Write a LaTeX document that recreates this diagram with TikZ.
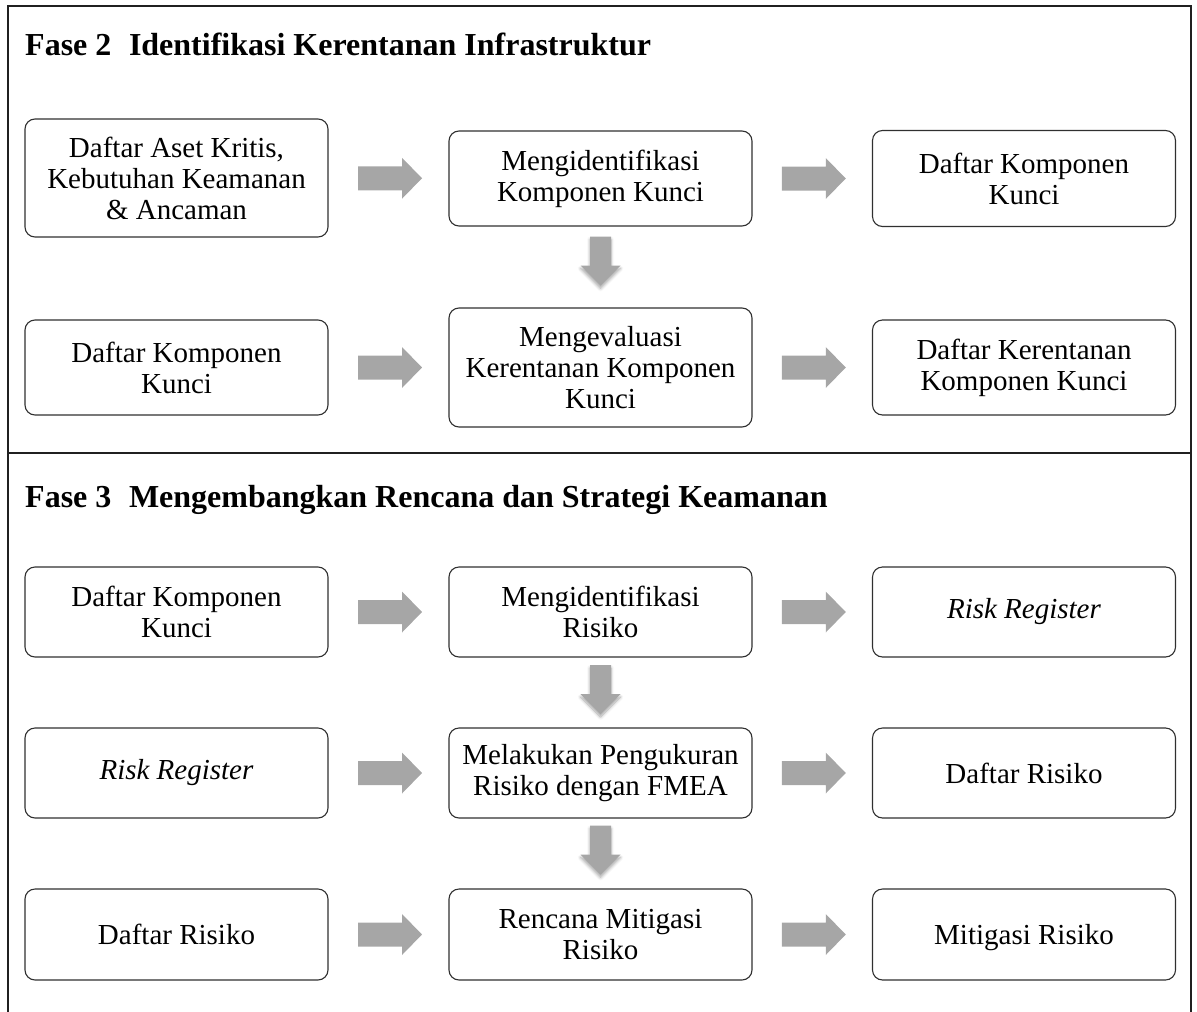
\documentclass[tikz,border=0pt]{standalone}
\usepackage{fontspec}
\setmainfont{Liberation Serif}
\usetikzlibrary{calc,shadows.blur}
\definecolor{arrowgray}{HTML}{A6A6A6}
\definecolor{boxcol}{HTML}{303030}
\definecolor{framecol}{HTML}{202020}
\begin{document}
\begin{tikzpicture}[x=1pt,y=-1pt,
  box/.style={draw=boxcol, line width=1.1pt, rounded corners=10pt, minimum width=303pt,
    align=center, font=\fontsize{29}{31}\selectfont, inner sep=0pt},
  titletext/.style={anchor=base west, font=\fontsize{32}{36}\selectfont\bfseries, inner sep=0pt},
  frameline/.style={draw=framecol, line width=1.3pt},
  rarr/.pic={\fill[arrowgray] (-32,-12) -- (12,-12) -- (12,-20.5) -- (32,0) -- (12,20.5) -- (12,12) -- (-32,12) -- cycle;},
  darr/.pic={\fill[arrowgray, blur shadow={shadow xshift=0pt, shadow yshift=-3pt, shadow opacity=35, shadow blur steps=6, shadow blur radius=3pt}]
     (-10.5,-25) -- (10.5,-25) -- (10.5,4) -- (20,4) -- (0,24) -- (-20,4) -- (-10.5,4) -- cycle;}
]
\useasboundingbox (0,0) rectangle (1197,1012);

% frame
\coordinate (fTL) at (8,6);
\coordinate (fTR) at (1191,6);
\coordinate (fBL) at (8,1012);
\coordinate (fBR) at (1191,1012);
\coordinate (dL) at (8,453);
\coordinate (dR) at (1191,453);
\draw[frameline] (fBL) -- (fTL) -- (fTR) -- (fBR);
\draw[frameline] (dL) -- (dR);

% titles
\node[titletext] (t2) at (25,55) {Fase 2\hspace{0.55em}Identifikasi Kerentanan Infrastruktur};
\node[titletext] (t3) at (25,507) {Fase 3\hspace{0.55em}Mengembangkan Rencana dan Strategi Keamanan};

% Phase 2
\node[box, minimum height=118pt] (a1) at (176.5,178) {Daftar Aset Kritis,\\Kebutuhan Keamanan\\\& Ancaman};
\node[box, minimum height=95pt] (b1) at (600.5,178.5) {Mengidentifikasi\\Komponen Kunci};
\node[box, minimum height=96pt] (c1) at (1024,178.5) {Daftar Komponen\\Kunci};
\node[box, minimum height=95pt] (a2) at (176.5,367.5) {Daftar Komponen\\Kunci};
\node[box, minimum height=119pt] (b2) at (600.5,367.5) {Mengevaluasi\\Kerentanan Komponen\\Kunci};
\node[box, minimum height=95pt] (c2) at (1024,367.5) {Daftar Kerentanan\\Komponen Kunci};

\pic at ($(a1.east)!0.5!(b1.west)+(1.5,0)$) {rarr};
\pic at ($(b1.east)!0.5!(c1.west)+(1.5,0)$) {rarr};
\pic at ($(b1.south)!0.5!(b2.north)+(0,-5.5)$) {darr};
\pic at ($(a2.east)!0.5!(b2.west)+(1.5,0)$) {rarr};
\pic at ($(b2.east)!0.5!(c2.west)+(1.5,0)$) {rarr};

% Phase 3
\node[box, minimum height=90pt] (a3) at (176.5,612) {Daftar Komponen\\Kunci};
\node[box, minimum height=90pt] (b3) at (600.5,612) {Mengidentifikasi\\Risiko};
\node[box, minimum height=90pt] (c3) at (1024,612) {\textit{Risk Register}};
\node[box, minimum height=90pt] (a4) at (176.5,773) {\textit{Risk Register}};
\node[box, minimum height=90pt] (b4) at (600.5,773) {Melakukan Pengukuran\\Risiko dengan FMEA};
\node[box, minimum height=90pt] (c4) at (1024,773) {Daftar Risiko};
\node[box, minimum height=91pt] (a5) at (176.5,934.5) {Daftar Risiko};
\node[box, minimum height=91pt] (b5) at (600.5,934.5) {Rencana Mitigasi\\Risiko};
\node[box, minimum height=91pt, text depth=0pt] (c5) at (1024,934.5) {Mitigasi Risiko};

\pic at ($(a3.east)!0.5!(b3.west)+(1.5,0)$) {rarr};
\pic at ($(b3.east)!0.5!(c3.west)+(1.5,0)$) {rarr};
\pic at ($(b3.south)!0.5!(b4.north)+(0,-2.5)$) {darr};
\pic at ($(a4.east)!0.5!(b4.west)+(1.5,0)$) {rarr};
\pic at ($(b4.east)!0.5!(c4.west)+(1.5,0)$) {rarr};
\pic at ($(b4.south)!0.5!(b5.north)+(0,-3)$) {darr};
\pic at ($(a5.east)!0.5!(b5.west)+(1.5,0)$) {rarr};
\pic at ($(b5.east)!0.5!(c5.west)+(1.5,0)$) {rarr};
\end{tikzpicture}
\end{document}
